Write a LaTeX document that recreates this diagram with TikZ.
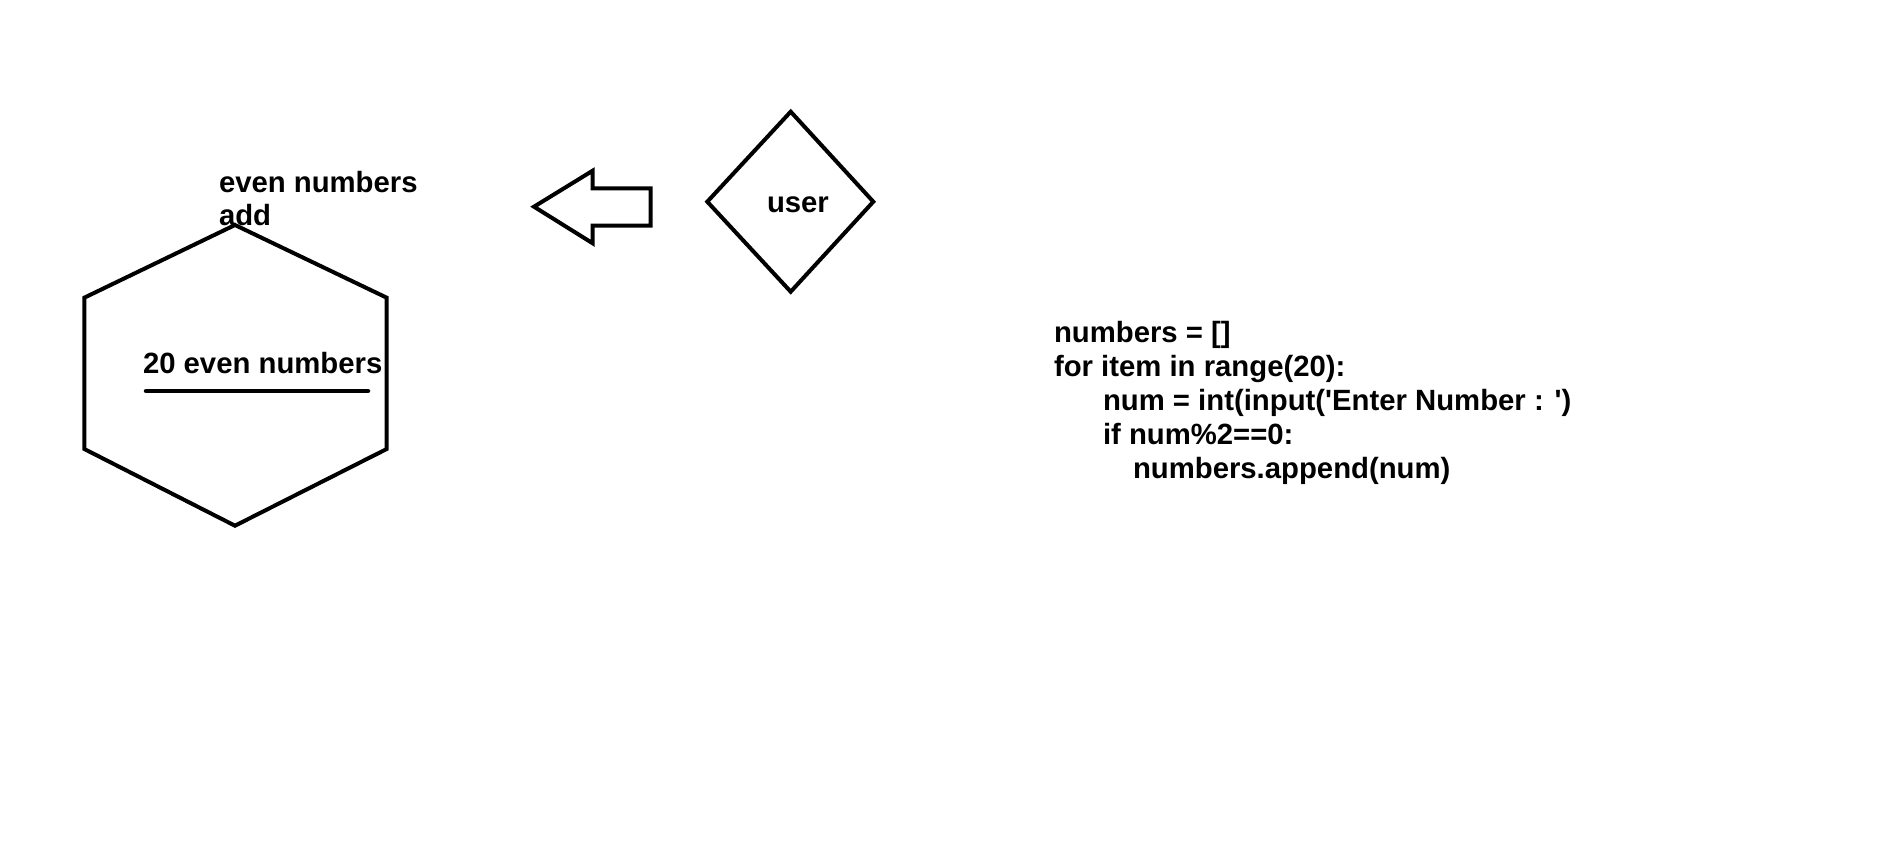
\documentclass[tikz,border=0pt]{standalone}
\usepackage{fontspec}
\newfontfamily\lib{Liberation Sans}
\tikzset{
  shape line/.style={draw=black, line width=4pt},
  txt/.style={anchor=base west, inner sep=0pt, outer sep=0pt, font=\lib\bfseries\fontsize{29.3}{32}\selectfont},
}
\begin{document}
\begin{tikzpicture}[x=1pt, y=-1pt]
\useasboundingbox[fill=white] (0,0) rectangle (1879,848);
% hexagon
\draw[shape line] (235,225) -- (386.7,297.7) -- (386.7,449) -- (235,525.7) -- (84.3,449) -- (84.3,297.7) -- cycle;
\node[txt] (even) at (219,192.7) {even numbers};
\node[txt] (add) at (219,225) {add};
\node[txt] (twenty) at (143,373.7) {20 even numbers};
\draw[line width=4.5pt, line cap=round] (146,391) -- (368,391);
% block arrow
\draw[shape line] (534,206.7) -- (592.7,170.7) -- (592.7,188.3) -- (650.7,188.3) -- (650.7,225.7) -- (592.7,225.7) -- (592.7,243.3) -- cycle;
% diamond
\draw[shape line] (790.7,111.7) -- (873.3,201.7) -- (790.7,291.7) -- (707.3,201.7) -- cycle;
\node[txt] (user) at (767,212.7) {user};
% code
\node[txt] (c1) at (1054,342) {numbers = []};
\node[txt] (c2) at (1054,376) {for item in range(20):};
\node[txt] (c3) at (1103,410) {num = int(input('Enter Number : ')};
\node[txt] (c4) at (1103,444) {if num\%2==0:};
\node[txt] (c5) at (1133,478) {numbers.append(num)};
\end{tikzpicture}
\end{document}
